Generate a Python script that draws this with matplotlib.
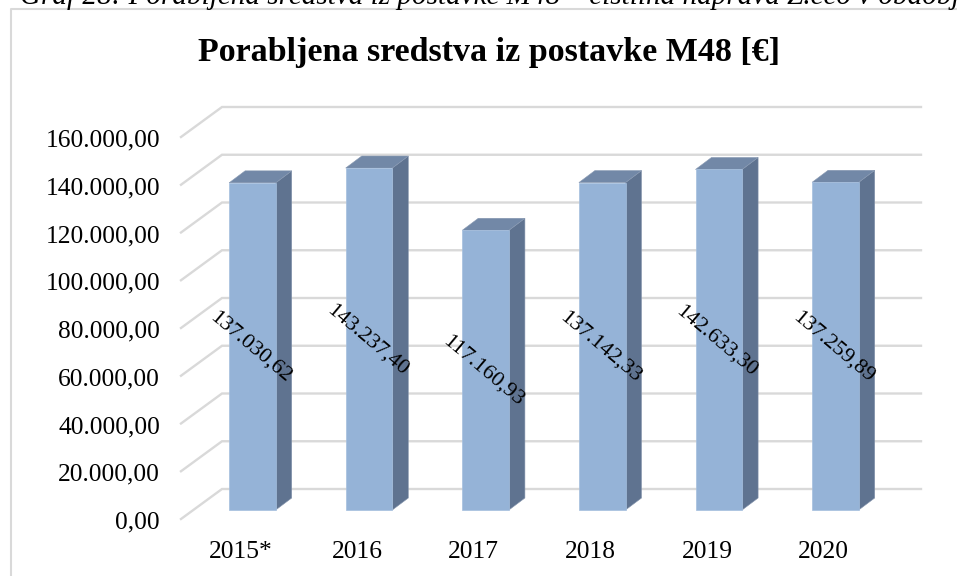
import matplotlib
matplotlib.use("Agg")
import matplotlib.pyplot as plt
from matplotlib.lines import Line2D
from matplotlib.transforms import ScaledTranslation

categories = ["2015*", "2016", "2017", "2018", "2019", "2020"]
values = [137030.62, 143237.40, 117160.93, 137142.33, 142633.30, 137259.89]
value_labels = ["137.030,62", "143.237,40", "117.160,93", "137.142,33", "142.633,30", "137.259,89"]
y_ticks = [0, 20000, 40000, 60000, 80000, 100000, 120000, 140000, 160000]
y_tick_labels = ["0,00", "20.000,00", "40.000,00", "60.000,00", "80.000,00",
                 "100.000,00", "120.000,00", "140.000,00", "160.000,00"]
title = "Porabljena sredstva iz postavke M48 [€]"
caption = "Graf 28: Porabljena sredstva iz postavke M48 – čistilna naprava Z.eco v obdobju"

W, H = 957, 576
PX_PER_CAT = 116.6
PX_PER_VAL = 47.75 / 20000
FONT = "Liberation Serif"

plt.rcParams["font.family"] = FONT
fig = plt.figure(figsize=(W / 100, H / 100), dpi=100, facecolor="white")

# axes rectangle in pixels: x 181..921, zero at y=519, top at y=60
L, R, B, T = 181, 921, 519, 60
ax = fig.add_axes([L / W, 1 - B / H, (R - L) / W, (B - T) / H])
ax.set_xlim((L - 240.5) / PX_PER_CAT, (R - 240.5) / PX_PER_CAT)
ax.set_ylim(0, (B - T) / PX_PER_VAL)
ax.patch.set_visible(False)
for s in ax.spines.values():
    s.set_visible(False)

dx = lambda px: px / PX_PER_CAT
dy = lambda px: px / PX_PER_VAL

# gridlines: side wall + back wall
x_left, x_right = ax.get_xlim()
for v in y_ticks:
    ax.plot([x_left, x_left + dx(41), x_right], [v, v + dy(30), v + dy(30)],
            color="#D9D9D9", lw=1.7, zorder=1, clip_on=False, solid_joinstyle="miter")

# bars: front face, side face, top face
shift = dx(252.4 - 240.5)
width = dx(46.6)
lift = dy(9)
depth_x, depth_y = dx(16), dy(12)
for i, v in enumerate(values):
    c = i + shift
    x0, x1 = c - width / 2, c + width / 2
    top = lift + v
    ax.bar(c, v, width=width, bottom=lift, color="#95B3D7", edgecolor="#A5BFDE",
           linewidth=0.5, zorder=3)
    ax.fill([x1, x1 + depth_x, x1 + depth_x, x1],
            [lift, lift + depth_y, top + depth_y, top],
            facecolor="#5F7390", edgecolor="#8494AC", linewidth=0.4, zorder=2)
    ax.fill([x0, x0 + depth_x, x1 + depth_x, x1],
            [top, top + depth_y, top + depth_y, top],
            facecolor="#7288A7", edgecolor="#8899B2", linewidth=0.4, zorder=2)
    ax.text(c - dx(2), lift + v / 2 - dy(1), value_labels[i], rotation=-40,
            rotation_mode="anchor", ha="center", va="center",
            fontsize=16, color="black", zorder=5)

ax.set_xticks(range(len(categories)), categories, fontsize=18.4)
ax.set_yticks(y_ticks, y_tick_labels, fontsize=18.4)
ax.tick_params(axis="y", length=0, pad=21 * 0.72)
ax.tick_params(axis="x", length=0, pad=22 * 0.72)
down = ScaledTranslation(0, -1 / 100, fig.dpi_scale_trans)
for lab in ax.get_yticklabels():
    lab.set_transform(lab.get_transform() + down)

fig.text(489 / W, 1 - 60.5 / H, title, ha="center", va="baseline",
         fontsize=24.5, fontweight="bold", color="black")

# chart frame (left and top visible only)
fig.add_artist(Line2D([10.5 / W, 10.5 / W, 1], [0, 1 - 9 / H, 1 - 9 / H],
                      color="#D9D9D9", lw=1.5))
# caption line above the chart, cut by the top of the image
fig.text(20 / W, 1 - 3.5 / H, caption, ha="left", va="baseline",
         fontsize=21, fontstyle="italic", color="black")

fig.savefig("out.png", dpi=100)
